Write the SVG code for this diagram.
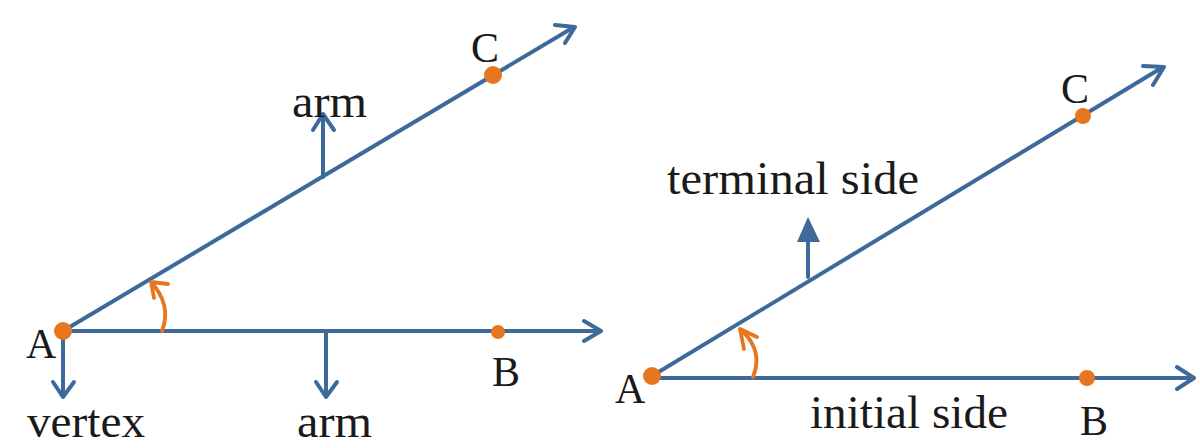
<svg xmlns="http://www.w3.org/2000/svg" width="1200" height="448" viewBox="0 0 1200 448">
<style>
.ln{stroke:#3d6a9b;stroke-width:4;fill:none;stroke-linecap:round;stroke-linejoin:round}
.arc{stroke:#e8761f;stroke-width:3.8;fill:none;stroke-linecap:round;stroke-linejoin:round}
.pt{fill:#e8761f}
.t{font-family:"Liberation Serif","Times New Roman",serif;font-size:42px;fill:#1a1a1a}
.w{font-size:46px}
</style>
<rect width="1200" height="448" fill="#ffffff"/>
<g id="connectors">
<!-- left figure -->
<path class="ln" d="M63 331 L600 331 M584 321 L601 331 L584 341"/>
<path class="ln" d="M63 331 L574 27 M555 25 L575 27 L565 43"/>
<path class="ln" d="M323 177 L323 114 M313 130 L323 114 L334 130"/>
<path class="ln" d="M63 331 L63 397 M53 382 L63 397 L74 382"/>
<path class="ln" d="M326 331 L326 397 M316 382 L326 397 L337 382"/>
<path class="arc" d="M162 331 Q172 305 151 282 M168 284 L151 282 L154 298"/>
<!-- right figure -->
<path class="ln" d="M652 378 L1193 378 M1177 367 L1194 378 L1177 389"/>
<path class="ln" d="M652 376 L1163 67 M1143 66 L1164 67 L1153 85"/>
<path class="ln" d="M808 277 L808 240"/>
<polygon points="808,217 797,242 820,242" fill="#3d6a9b"/>
<path class="arc" d="M753 377 Q764 350 740 329 M757 337 L740 329 L744 349"/>
</g>
<g id="A1"><circle class="pt" cx="63" cy="331" r="9"/><text class="t" x="26" y="358">A</text></g>
<g id="B1"><circle class="pt" cx="498" cy="332" r="7"/><text class="t" x="492" y="386">B</text></g>
<g id="C1"><circle class="pt" cx="493" cy="75" r="9"/><text class="t" x="471" y="62">C</text></g>
<g id="vertex"><text class="t w" x="27" y="437" textLength="118" lengthAdjust="spacingAndGlyphs">vertex</text></g>
<g id="arm-bottom"><text class="t w" x="297" y="437" textLength="75" lengthAdjust="spacingAndGlyphs">arm</text></g>
<g id="arm-top"><text class="t w" x="292" y="117" textLength="75" lengthAdjust="spacingAndGlyphs">arm</text></g>
<g id="A2"><circle class="pt" cx="652" cy="376" r="9"/><text class="t" x="615" y="403">A</text></g>
<g id="B2"><circle class="pt" cx="1087" cy="378" r="8"/><text class="t" x="1080" y="435">B</text></g>
<g id="C2"><circle class="pt" cx="1083" cy="116" r="8"/><text class="t" x="1061" y="103">C</text></g>
<g id="terminal"><text class="t w" x="667" y="194" textLength="252" lengthAdjust="spacingAndGlyphs">terminal side</text></g>
<g id="initial"><text class="t w" x="810" y="428" textLength="198" lengthAdjust="spacingAndGlyphs">initial side</text></g>
</svg>
